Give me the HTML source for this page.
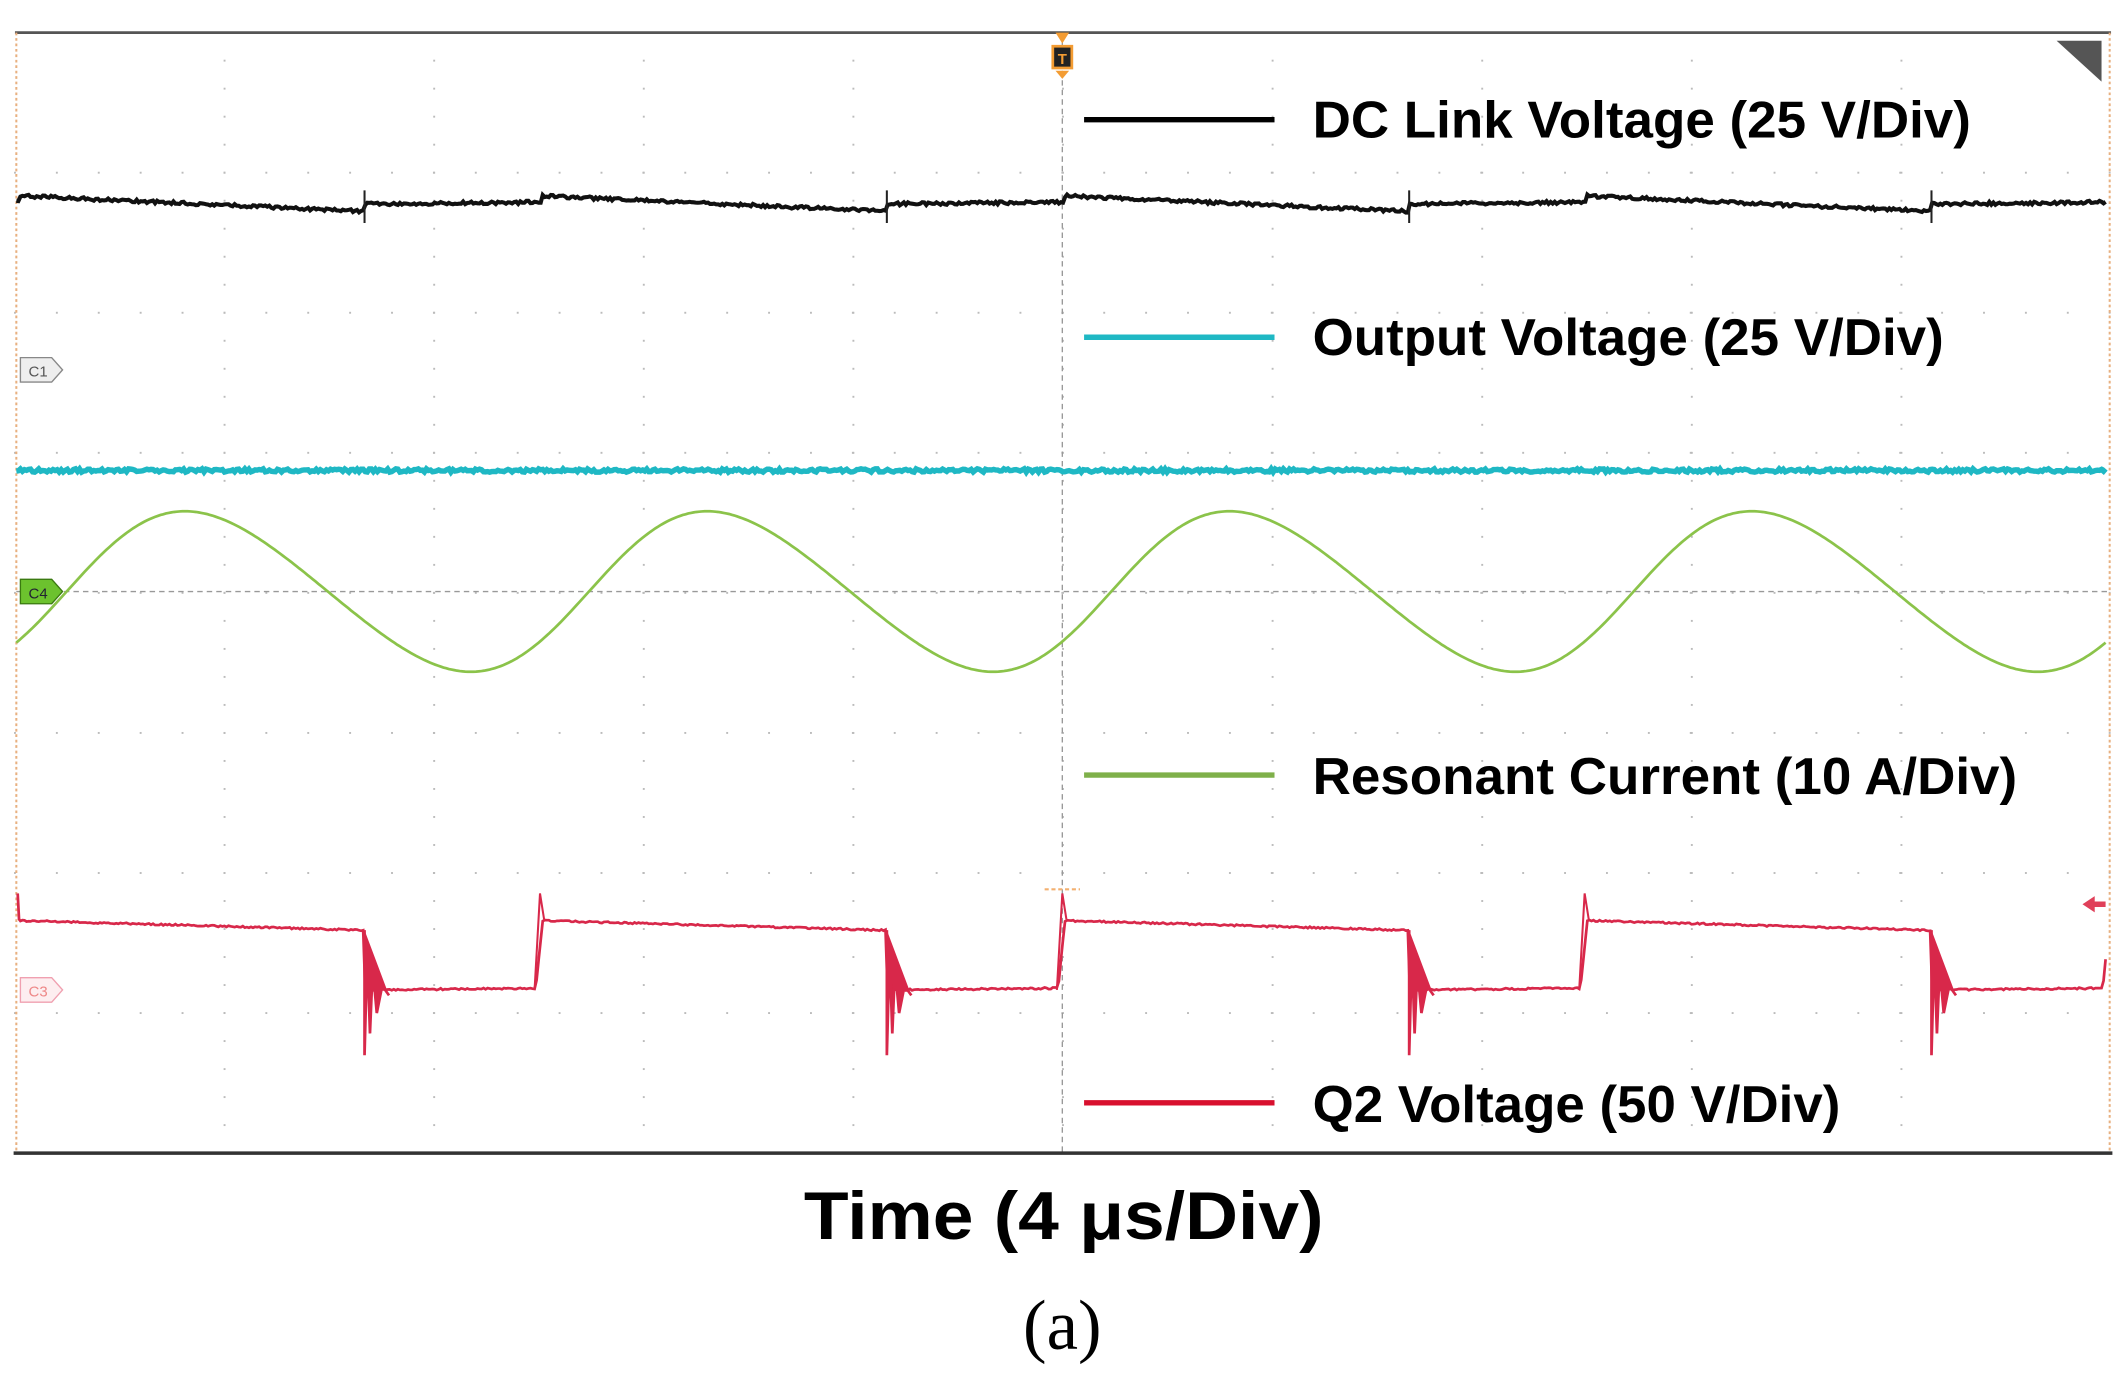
<!DOCTYPE html>
<html><head><meta charset="utf-8"><style>html,body{margin:0;padding:0;background:#fff;}svg{display:block;}</style></head>
<body>
<svg id="s" width="2126" height="1387" viewBox="0 0 1563 1020" preserveAspectRatio="none" xmlns="http://www.w3.org/2000/svg">
<rect x="0" y="0" width="1563" height="1020" fill="#fff"/>
<g id="grid"></g>
<line x1="781" y1="24" x2="781" y2="848" stroke="#999" stroke-width="1" stroke-dasharray="4,3"/>
<line x1="12" y1="435" x2="1550" y2="435" stroke="#999" stroke-width="1" stroke-dasharray="4,3"/>
<line x1="11" y1="24" x2="1552" y2="24" stroke="#555" stroke-width="2"/>
<line x1="10" y1="848" x2="1553" y2="848" stroke="#333" stroke-width="2.5"/>
<line x1="12" y1="24" x2="12" y2="848" stroke="#e8b080" stroke-width="1.5" stroke-dasharray="2,2"/>
<line x1="1551" y1="24" x2="1551" y2="848" stroke="#e8b080" stroke-width="1.5" stroke-dasharray="2,2"/>
<path id="black" fill="none" stroke="#111" stroke-width="3"/>
<path id="cyan" fill="none" stroke="#1fb8c4" stroke-width="4"/>
<path id="green" fill="none" stroke="#8bc34a" stroke-width="2"/>
<path id="red" fill="none" stroke="#d8284a" stroke-width="2"/>
<g fill="#d8284a" stroke="#d8284a" stroke-width="2">
<path d="M268,684 L268,776 L270,700 L272,760 L274,712 L277,745 L281,725 L286,732"/>
<path d="M652,684 L652,776 L654,700 L656,760 L658,712 L661,745 L665,725 L670,732"/>
<path d="M1036,684 L1036,776 L1038,700 L1040,760 L1042,712 L1045,745 L1049,725 L1054,732"/>
<path d="M1420,684 L1420,776 L1422,700 L1424,760 L1426,712 L1429,745 L1433,725 L1438,732"/>
</g>
<g fill="none" stroke="#d8284a" stroke-width="1.5">
<path d="M393,728 L397,657 L400,676"/>
<path d="M777,728 L781,657 L784,676"/>
<path d="M1161,728 L1165,657 L1168,676"/>
</g>
<g stroke="#222" stroke-width="1.5">
<line x1="268" y1="140" x2="268" y2="164"/>
<line x1="652" y1="140" x2="652" y2="164"/>
<line x1="1036" y1="140" x2="1036" y2="164"/>
<line x1="1420" y1="140" x2="1420" y2="164"/>
</g>
<polygon points="776,24 786,24 781,32" fill="#f39c33"/>
<rect x="773" y="33" width="16" height="18" fill="#f39c33"/>
<rect x="775" y="35" width="12" height="14" fill="#222"/>
<text x="781" y="47" font-family="Liberation Sans,sans-serif" font-size="11" font-weight="bold" fill="#f39c33" text-anchor="middle">T</text>
<polygon points="776,52 786,52 781,58" fill="#f39c33"/>
<polygon points="1512,30 1545,30 1545,60" fill="#555"/>
<polygon points="15,263 38,263 46,272 38,281 15,281" fill="#eee" stroke="#888" stroke-width="1"/>
<text x="28" y="277" font-family="Liberation Sans,sans-serif" font-size="11" fill="#555" text-anchor="middle">C1</text>
<polygon points="15,426 38,426 46,435 38,444 15,444" fill="#6cc22e" stroke="#3a7a10" stroke-width="1"/>
<text x="28" y="440" font-family="Liberation Sans,sans-serif" font-size="11" fill="#223" text-anchor="middle">C4</text>
<polygon points="15,719 38,719 46,728 38,737 15,737" fill="#fdeef0" stroke="#f0a0b0" stroke-width="1"/>
<text x="28" y="733" font-family="Liberation Sans,sans-serif" font-size="11" fill="#e88" text-anchor="middle">C3</text>
<polygon points="1531,665 1540,659 1540,663 1548,663 1548,667 1540,667 1540,671" fill="#e0405a"/>
<line x1="768" y1="654" x2="794" y2="654" stroke="#f3b070" stroke-width="1.5" stroke-dasharray="3,2"/>
<line x1="797" y1="88" x2="937" y2="88" stroke="#000" stroke-width="4"/>
<line x1="797" y1="248" x2="937" y2="248" stroke="#1fb8c4" stroke-width="4"/>
<line x1="797" y1="570" x2="937" y2="570" stroke="#7fb04a" stroke-width="4"/>
<line x1="797" y1="811" x2="937" y2="811" stroke="#d8102e" stroke-width="4"/>
<g font-family="Liberation Sans,sans-serif" font-weight="bold" font-size="38" fill="#000">
<text x="965" y="101" textLength="484" lengthAdjust="spacingAndGlyphs">DC Link Voltage (25 V/Div)</text>
<text x="965" y="261" textLength="464" lengthAdjust="spacingAndGlyphs">Output Voltage (25 V/Div)</text>
<text x="965" y="584" textLength="518" lengthAdjust="spacingAndGlyphs">Resonant Current (10 A/Div)</text>
<text x="965" y="825" textLength="388" lengthAdjust="spacingAndGlyphs">Q2 Voltage (50 V/Div)</text>
<text x="591" y="911" font-size="50" textLength="382" lengthAdjust="spacingAndGlyphs">Time (4 μs/Div)</text>
</g>
<text x="781" y="992" font-family="Liberation Serif,serif" font-size="52" fill="#000" text-anchor="middle">(a)</text>
<script>
(function(){
var g=document.getElementById('grid'),NS='http://www.w3.org/2000/svg';
function dot(x,y){var e=document.createElementNS(NS,'rect');e.setAttribute('x',x-0.7);e.setAttribute('y',y-0.7);e.setAttribute('width',1.4);e.setAttribute('height',1.4);e.setAttribute('fill','#bbb');g.appendChild(e);}
for(var i=1;i<10;i++){var x=11+i*154.1;for(var y=24;y<848;y+=20.6)dot(x,y);}
for(var j=1;j<8;j++){var y2=24+j*103;for(var x2=11;x2<1552;x2+=30.8)dot(x2,y2);}
var seed=1;function r(){seed=(seed*16807)%2147483647;return seed/2147483647-0.5;}
var P=384;
var d='';
for(var x=12;x<=1548;x+=1.5){var ph2=((x-398)%P+P)%P,y;
 if(ph2<254){y=144+ph2*0.045;}else{y=150-(ph2-254)*0.01;}
 y+=r()*2.2;d+=(d?'L':'M')+x.toFixed(1)+','+y.toFixed(1);}
document.getElementById('black').setAttribute('d',d);
d='';for(var x=12;x<=1548;x+=1.5){d+=(d?'L':'M')+x.toFixed(1)+','+(346+r()*2.5).toFixed(1);}
document.getElementById('cyan').setAttribute('d',d);
d='';for(var x=12;x<=1548;x+=2){var t=2*Math.PI*(x-49)/P;var y=435-59*Math.sin(t+0.15*Math.sin(t));d+=(d?'L':'M')+x+','+y.toFixed(1);}
document.getElementById('green').setAttribute('d',d);
d='M13,657L14,676';
for(var x=15;x<=1548;x+=1.5){var ph=((x-14)%P+P)%P,y;
 if(ph<254){y=677+ph*0.028;}else if(ph<380){y=728-(ph-254)*0.01;}else{y=726-(ph-380)*10;}
 y+=r()*1.2;d+='L'+x.toFixed(1)+','+y.toFixed(1);}
document.getElementById('red').setAttribute('d',d);
})();
</script>
</svg>
</body></html>
